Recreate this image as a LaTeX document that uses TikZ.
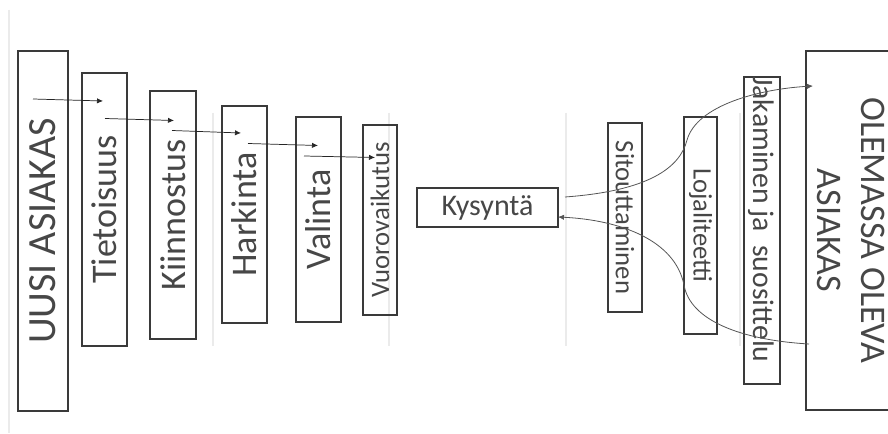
\documentclass[tikz,border=0pt]{standalone}
\usepackage{fontspec}
\setmainfont{Carlito}
\usetikzlibrary{arrows.meta}
\definecolor{boxc}{HTML}{3A3A3A}
\definecolor{txtc}{HTML}{474747}
\definecolor{faint}{HTML}{EBEBEB}
\definecolor{linec}{HTML}{555555}
\tikzset{
  bx/.style={draw=boxc, line width=1.1pt, inner sep=0pt, text=txtc},
  bigtxt/.style={font=\fontsize{30pt}{36pt}\selectfont},
  midtxt/.style={font=\fontsize{27pt}{32pt}\selectfont},
  smtxt/.style={font=\fontsize{20pt}{24pt}\selectfont},
  arr/.style={draw=black!85, line width=0.55pt, -{Latex[length=4.5pt,width=4pt]}},
  carr/.style={draw=linec, line width=0.6pt, -{Latex[length=4.5pt,width=4pt]}},
  gridl/.style={draw=faint, line width=0.8pt}
}
\begin{document}
\begin{tikzpicture}[x=0.75pt,y=-0.75pt]
\useasboundingbox (0,0) rectangle (888,434);
\fill[white] (0,0) rectangle (888,434);
% faint background lines
\draw[gridl, line width=2.2pt] (9,10) -- (9,433);
\draw[gridl] (213,113) -- (213,346);
\draw[gridl] (389,113) -- (389,346);
\draw[gridl] (566,113) -- (566,346);
\draw[gridl] (740,113) -- (740,346);
% left boxes
\node[bx, bigtxt, rotate=90, minimum width=360*0.75pt, minimum height=50*0.75pt] (uusi) at (43,231) {UUSI ASIAKAS};
\node[bx, midtxt, rotate=90, minimum width=273*0.75pt, minimum height=45*0.75pt] (tie) at (104.5,209.5) {Tietoisuus};
\node[bx, midtxt, rotate=90, minimum width=248*0.75pt, minimum height=46*0.75pt] (kii) at (173,215) {Kiinnostus};
\node[bx, midtxt, rotate=90, minimum width=217*0.75pt, minimum height=45*0.75pt] (har) at (244.5,214.5) {Harkinta};
\node[bx, midtxt, rotate=90, minimum width=205*0.75pt, minimum height=45*0.75pt] (val) at (318.5,219.5) {Valinta};
\node[bx, smtxt, rotate=90, minimum width=190*0.75pt, minimum height=34*0.75pt] (vuo) at (380,220) {Vuorovaikutus};
% centre
\node[bx, font=\fontsize{22.5pt}{27pt}\selectfont, minimum width=141*0.75pt, minimum height=39*0.75pt] (kys) at (487.5,207.5) {Kysyntä};
% right boxes
\node[bx, smtxt, rotate=-90, minimum width=189*0.75pt, minimum height=34*0.75pt] (sit) at (625,217.5) {Sitouttaminen};
\node[bx, smtxt, rotate=-90, minimum width=217*0.75pt, minimum height=33*0.75pt] (loj) at (700.5,225.5) {Lojaliteetti};
\node[bx, rotate=-90, minimum width=307*0.75pt, minimum height=36*0.75pt] (jak) at (762,230.5) {};
\node[text=txtc, rotate=-90, inner sep=0pt, anchor=west, font=\fontsize{22.3pt}{27pt}\selectfont] (jakt) at (761,76) {Jakaminen ja\ \ suosittelu};
\node[bx, font=\fontsize{27pt}{32.5pt}\selectfont, rotate=-90, align=center, minimum width=359*0.75pt, minimum height=90*0.75pt] (ole) at (851,230.5) {OLEMASSA OLEVA\\ASIAKAS};
% straight arrows
\coordinate (a1s) at (33,99);  \coordinate (a1e) at (103,101);
\coordinate (a2s) at (105,118.5); \coordinate (a2e) at (174,120.5);
\coordinate (a3s) at (172,130.5); \coordinate (a3e) at (241,133);
\coordinate (a4s) at (248,143.5); \coordinate (a4e) at (318,145.5);
\coordinate (a5s) at (304,156); \coordinate (a5e) at (375,157.5);
\draw[arr] (a1s) -- (a1e);
\draw[arr] (a2s) -- (a2e);
\draw[arr] (a3s) -- (a3e);
\draw[arr] (a4s) -- (a4e);
\draw[arr] (a5s) -- (a5e);
% curved connectors
\coordinate (c1s) at (565,197);
\coordinate (c1e) at (813,86);
\draw[carr] (c1s) .. controls (648,191) and (680,168) .. (687,140) .. controls (697,105) and (760,89) .. (c1e);
\coordinate (c2s) at (809,344);
\coordinate (c2e) at (558,217);
\draw[carr] (c2s) .. controls (740,340) and (690,320) .. (684,285) .. controls (675,240) and (620,220) .. (c2e);
\end{tikzpicture}
\end{document}
